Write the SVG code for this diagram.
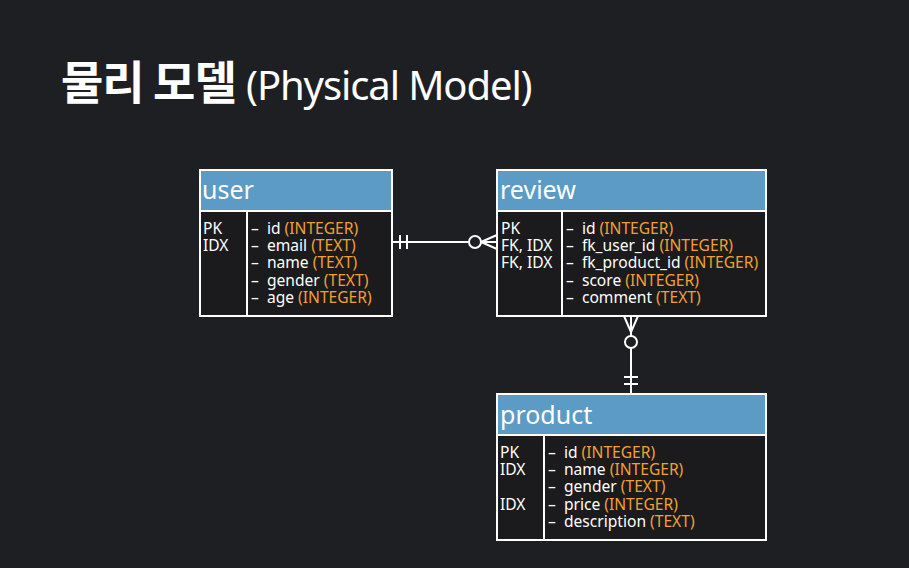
<svg xmlns="http://www.w3.org/2000/svg" width="909" height="568" viewBox="0 0 909 568">
<style>
.box{fill:#1b1b1d;stroke:#ffffff;stroke-width:2}
.hdr{fill:#5b9bc6;stroke:#ffffff;stroke-width:2}
.div{stroke:#ffffff;stroke-width:2}
.ht{font-family:"Noto Sans","Open Sans",sans-serif;font-size:25px;fill:#ffffff}
.t{font-family:"Noto Sans","Open Sans",sans-serif;font-size:15.6px;fill:#ffffff}
.o{fill:#f3a033}
.c{stroke:#ffffff;stroke-width:2;fill:none}
</style>
<rect width="909" height="568" fill="#1e1f23"/>
<text x="61" y="99" font-family="'Noto Sans CJK KR',sans-serif" font-size="46" font-weight="bold" fill="#ffffff" letter-spacing="-1">물리 모델</text>
<text x="246" y="100" font-family="'Noto Sans','Noto Sans CJK KR',sans-serif" font-size="40" fill="#ffffff" letter-spacing="-1.1">(Physical Model)</text>
<g id="user">
<rect class="box" x="200" y="170" width="192" height="146"/>
<rect class="hdr" x="200" y="170" width="192" height="41"/>
<line class="div" x1="247" y1="211" x2="247" y2="316"/>
<text class="ht" x="202" y="199">user</text>
<text class="t" x="203" y="234">PK</text>
<text class="t" x="203" y="251">IDX</text>
<text class="t" x="251" y="234">–&#160; id <tspan class="o">(INTEGER)</tspan></text>
<text class="t" x="251" y="251">–&#160; email <tspan class="o">(TEXT)</tspan></text>
<text class="t" x="251" y="268">–&#160; name <tspan class="o">(TEXT)</tspan></text>
<text class="t" x="251" y="286">–&#160; gender <tspan class="o">(TEXT)</tspan></text>
<text class="t" x="251" y="303">–&#160; age <tspan class="o">(INTEGER)</tspan></text>
</g>
<g id="review">
<rect class="box" x="497" y="170" width="269" height="146"/>
<rect class="hdr" x="497" y="170" width="269" height="41"/>
<line class="div" x1="562" y1="211" x2="562" y2="316"/>
<text class="ht" x="500" y="199">review</text>
<text class="t" x="501" y="234">PK</text>
<text class="t" x="501" y="251">FK, IDX</text>
<text class="t" x="501" y="268">FK, IDX</text>
<text class="t" x="566" y="234">–&#160; id <tspan class="o">(INTEGER)</tspan></text>
<text class="t" x="566" y="251">–&#160; fk_user_id <tspan class="o">(INTEGER)</tspan></text>
<text class="t" x="566" y="268">–&#160; fk_product_id <tspan class="o">(INTEGER)</tspan></text>
<text class="t" x="566" y="286">–&#160; score <tspan class="o">(INTEGER)</tspan></text>
<text class="t" x="566" y="303">–&#160; comment <tspan class="o">(TEXT)</tspan></text>
</g>
<g id="product">
<rect class="box" x="497" y="394" width="269" height="146"/>
<rect class="hdr" x="497" y="394" width="269" height="41"/>
<line class="div" x1="544" y1="435" x2="544" y2="540"/>
<text class="ht" x="500" y="424">product</text>
<text class="t" x="500" y="458">PK</text>
<text class="t" x="500" y="475">IDX</text>
<text class="t" x="500" y="510">IDX</text>
<text class="t" x="548" y="458">–&#160; id <tspan class="o">(INTEGER)</tspan></text>
<text class="t" x="548" y="475">–&#160; name <tspan class="o">(INTEGER)</tspan></text>
<text class="t" x="548" y="492">–&#160; gender <tspan class="o">(TEXT)</tspan></text>
<text class="t" x="548" y="510">–&#160; price <tspan class="o">(INTEGER)</tspan></text>
<text class="t" x="548" y="527">–&#160; description <tspan class="o">(TEXT)</tspan></text>
</g>
<g id="connectors">
<line class="c" x1="392" y1="242" x2="469" y2="242"/>
<line class="c" x1="400" y1="235" x2="400" y2="249"/>
<line class="c" x1="407" y1="235" x2="407" y2="249"/>
<circle class="c" cx="475" cy="242" r="6"/>
<line class="c" x1="481" y1="242" x2="497" y2="242"/>
<line class="c" x1="481" y1="242" x2="497" y2="235"/>
<line class="c" x1="481" y1="242" x2="497" y2="249"/>
<line class="c" x1="631" y1="316" x2="631" y2="336"/>
<line class="c" x1="631" y1="332" x2="624" y2="316"/>
<line class="c" x1="631" y1="332" x2="638" y2="316"/>
<circle class="c" cx="631" cy="342" r="6"/>
<line class="c" x1="631" y1="348" x2="631" y2="394"/>
<line class="c" x1="624" y1="377" x2="638" y2="377"/>
<line class="c" x1="624" y1="384" x2="638" y2="384"/>
</g>
</svg>
